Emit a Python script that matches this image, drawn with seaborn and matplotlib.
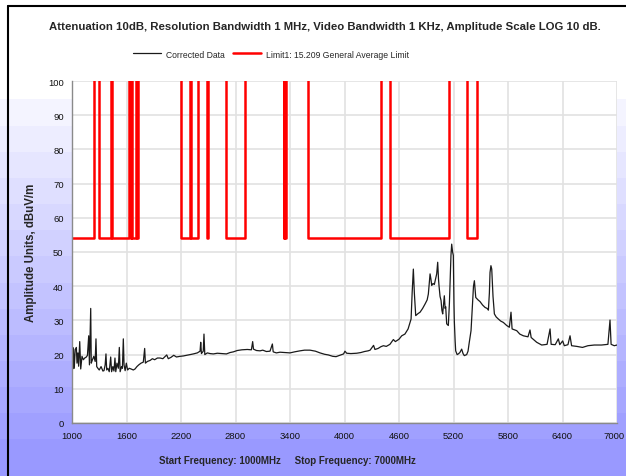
import numpy as np
import matplotlib
matplotlib.use("Agg")
import matplotlib.pyplot as plt
import matplotlib.transforms as mtransforms
import seaborn as sns
from matplotlib.lines import Line2D

# Corrected data trace (MHz, dBuV/m)
freq = [1000, 1008, 1015, 1025, 1035, 1048, 1055, 1065, 1073, 1085, 1096, 1110, 1125, 1140,
        1158, 1170, 1184, 1192, 1200, 1206, 1212, 1225, 1240, 1255, 1264, 1272, 1285, 1300,
        1320, 1340, 1352, 1365, 1374, 1382, 1395, 1410, 1426, 1436, 1450, 1462, 1473, 1482,
        1495, 1510, 1521, 1530, 1545, 1555, 1565, 1573, 1585, 1598, 1612, 1630, 1650, 1675,
        1694, 1715, 1735, 1760, 1785, 1800, 1808, 1830, 1860, 1885, 1910, 1940, 1970, 2000,
        2043, 2060, 2090, 2120, 2150, 2190, 2225, 2260, 2300, 2336, 2380, 2410, 2417, 2425,
        2445, 2453, 2462, 2490, 2520, 2556, 2600, 2650, 2700, 2740, 2776, 2820, 2870, 2930,
        2975, 2989, 2998, 3030, 3070, 3100, 3140, 3180, 3206, 3215, 3250, 3290, 3340, 3400,
        3450, 3510, 3560, 3620, 3680, 3730, 3780, 3822, 3870, 3907, 3950, 3990, 4005, 4024,
        4070, 4134, 4180, 4220, 4260, 4282, 4320, 4335, 4370, 4400, 4428, 4460, 4500, 4538,
        4560, 4600, 4630, 4665, 4700, 4714, 4733, 4745, 4758, 4769, 4784, 4810, 4832, 4860,
        4887, 4910, 4923, 4942, 4952, 4960, 4975, 4989, 5005, 5015, 5026, 5035, 5041, 5052,
        5063, 5072, 5081, 5090, 5099, 5108, 5114, 5125, 5143, 5155, 5162, 5172, 5180, 5190,
        5198, 5205, 5209, 5218, 5224, 5240, 5253, 5270, 5290, 5305, 5319, 5345, 5360, 5371,
        5393, 5412, 5420, 5430, 5445, 5470, 5492, 5520, 5547, 5570, 5584, 5595, 5602, 5612,
        5621, 5635, 5650, 5670, 5694, 5720, 5749, 5786, 5815, 5833, 5845, 5896, 5930, 5969,
        6020, 6042, 6055, 6116, 6171, 6230, 6263, 6275, 6320, 6354, 6370, 6402, 6420, 6460,
        6483, 6500, 6557, 6620, 6680, 6750, 6830, 6900, 6923, 6935, 6970, 7000]
level = [26.7, 15.8, 22.0, 16.0, 21.5, 22.1, 17.5, 20.5, 16.6, 23.8, 15.8, 19.5, 18.5, 19.0,
         19.3, 19.8, 25.5, 17.0, 26.5, 33.5, 17.5, 18.5, 19.5, 18.0, 24.6, 16.5, 16.0, 15.5,
         16.5, 15.2, 15.3, 17.0, 20.2, 15.5, 16.0, 15.0, 19.3, 15.0, 16.5, 15.2, 19.0, 15.0,
         17.5, 16.0, 22.1, 15.0, 16.5, 16.0, 24.6, 17.0, 15.3, 17.5, 15.5, 16.0, 15.8, 15.5,
         15.8, 16.5, 17.0, 17.5, 17.8, 21.8, 17.5, 18.0, 18.3, 18.8, 18.5, 19.0, 19.0, 18.8,
         19.9, 18.8, 19.2, 19.8, 19.3, 19.5, 19.6, 19.8, 20.0, 20.2, 20.5, 21.0, 23.6, 20.3,
         21.0, 26.0, 20.0, 20.5, 20.3, 20.2, 20.4, 20.3, 20.2, 20.6, 20.8, 21.2, 21.4, 21.5,
         21.4, 23.8, 21.6, 21.2, 21.1, 21.3, 20.9, 21.0, 23.1, 20.8, 20.5, 20.7, 20.6, 20.5,
         20.8, 21.1, 21.3, 21.3, 21.0, 20.5, 20.1, 19.9, 19.5, 19.4, 19.8, 20.2, 21.0, 20.4,
         20.3, 20.4, 20.6, 20.9, 21.1, 21.3, 22.7, 21.5, 21.8, 22.3, 22.6, 22.4, 23.0, 24.4,
         23.8, 24.5, 25.5, 26.0, 27.5, 28.7, 30.4, 38.2, 45.0, 38.0, 31.4, 32.0, 32.4, 33.5,
         34.8, 36.0, 37.7, 43.6, 42.0, 40.2, 40.8, 40.5, 42.5, 43.6, 47.0, 42.0, 40.0, 37.0,
         35.8, 33.0, 31.9, 34.5, 37.2, 33.5, 34.0, 29.0, 28.5, 35.0, 40.6, 49.0, 52.3, 50.0,
         49.0, 35.0, 29.9, 24.0, 21.1, 20.0, 20.2, 20.6, 21.6, 20.3, 19.7, 20.0, 21.0, 23.1,
         27.0, 35.8, 40.0, 41.6, 36.7, 36.0, 35.5, 34.5, 33.8, 33.5, 33.0, 38.0, 44.0, 46.0,
         45.0, 37.0, 31.9, 31.0, 30.4, 29.8, 29.4, 28.5, 28.0, 32.4, 27.5, 27.0, 26.0, 25.5,
         25.2, 27.2, 25.0, 23.6, 22.8, 23.0, 27.5, 23.0, 22.9, 24.6, 22.9, 24.0, 22.6, 22.9,
         25.5, 22.6, 22.4, 22.1, 22.6, 22.8, 22.8, 23.0, 30.1, 23.0, 22.6, 22.8]

# 15.209 limit: 54 dBuV/m inside restricted bands, off scale elsewhere
band_start = [1000, 1300, 1435, 1645.5, 1660, 1718.8, 2200, 2310, 2483.5, 2690,
              3332, 3345.8, 3600, 4500, 5350]
band_stop = [1240, 1427, 1626.5, 1646.5, 1710, 1722.2, 2300, 2390, 2500, 2900,
             3339, 3358, 4400, 5150, 5460]
limit_in = 54
limit_out = 130

lim_x, lim_y = [], []
for s, e in zip(band_start, band_stop):
    if lim_x:
        lim_x += [s, s]
        lim_y += [limit_out, limit_in]
    else:
        lim_x.append(s)
        lim_y.append(limit_in)
    lim_x += [e, e]
    lim_y += [limit_in, limit_out]
lim_x.append(7000)
lim_y.append(limit_out)

sns.set_style("white")
plt.rcParams['font.family'] = ['Liberation Sans', 'DejaVu Sans']

W, H = 626, 477
fig = plt.figure(figsize=(W / 100, H / 100), dpi=100)

# banded lavender background
bg = fig.add_axes([0, 0, 1, 1], zorder=-5)
rows = np.arange(H)
t = np.clip((rows - 100) / 340, 0, 1)
t = np.floor(t * 13) / 13
col = np.ones((H, 1, 3))
col[:, 0, 0] = 0.96 - 0.36 * t
col[:, 0, 1] = 0.96 - 0.36 * t
col[rows < 100] = 1.0
bg.imshow(col, aspect='auto', extent=[0, W, H, 0])
bg.set_xlim(0, W)
bg.set_ylim(H, 0)
bg.axis('off')

fig.add_artist(Line2D([8 / W, 8 / W], [0, 1 - 7 / H], color='black', lw=1.5))
fig.add_artist(Line2D([8 / W, 1], [1 - 7 / H, 1 - 7 / H], color='black', lw=1.5))

ax = fig.add_axes([72 / W, 1 - 424 / H, (617 - 72) / W, (424 - 82) / H])
ax.set_facecolor('white')

sns.lineplot(x=freq, y=level, ax=ax, color='#1a1a1a', lw=0.9,
             estimator=None, sort=False, label='Corrected Data')
sns.lineplot(x=lim_x, y=lim_y, ax=ax, color='#ff0000', lw=1.8,
             estimator=None, sort=False, label='Limit1: 15.209 General Average Limit')

ax.set_xlim(1000, 7000)
ax.set_ylim(0, 100)
ax.set_xticks(range(1000, 7001, 600))
ax.set_yticks(range(0, 101, 10))
ax.grid(True, color='#e2e2e2', lw=1.2)
ax.set_axisbelow(True)
for sp in ['top', 'right']:
    ax.spines[sp].set_visible(False)
for sp in ['left', 'bottom']:
    ax.spines[sp].set_color('#8a8a8a')
    ax.spines[sp].set_linewidth(1.0)
ax.tick_params(axis='both', direction='out', length=4, width=0.8, color='#8a8a8a',
               labelsize=6.8, labelcolor='#111111', pad=2)
ax.set_ylabel('Amplitude Units, dBuV/m', fontsize=8.3, fontweight='bold', labelpad=8)
ax.set_xlabel('')

# keep the last tick label inside the figure
last = ax.get_xticklabels()[-1]
last.set_transform(last.get_transform() +
                   mtransforms.ScaledTranslation(-2 / 72, 0, fig.dpi_scale_trans))

handles, labels = ax.get_legend_handles_labels()
ax.get_legend().remove()
fig.legend(handles, labels, loc='center', bbox_to_anchor=(271 / W, 1 - 55 / H), ncol=2,
           frameon=False, fontsize=6.2, handlelength=3.2, handletextpad=0.6, columnspacing=1.0)

fig.text(325 / W, 1 - 27 / H,
         'Attenuation 10dB, Resolution Bandwidth 1 MHz, Video Bandwidth 1 KHz, Amplitude Scale LOG 10 dB.',
         ha='center', va='center', fontsize=8.2, fontweight='bold')
fig.text(287 / W, 1 - 461 / H,
         'Start Frequency: 1000MHz     Stop Frequency: 7000MHz',
         ha='center', va='center', fontsize=7, fontweight='bold')

fig.savefig('out.png', dpi=100)
